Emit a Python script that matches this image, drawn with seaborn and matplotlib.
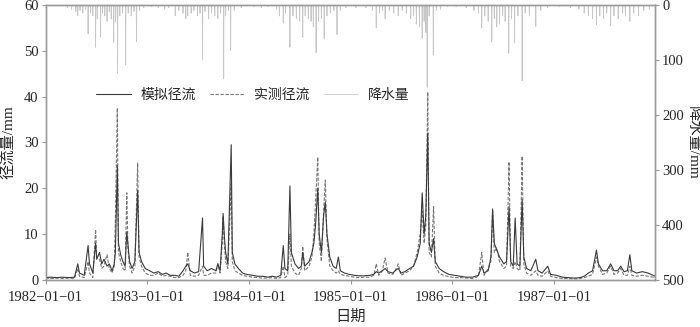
import pandas as pd
import numpy as np
import matplotlib
matplotlib.use('Agg')
import matplotlib.pyplot as plt
import matplotlib.dates as mdates
import seaborn as sns

q_dates = ['1982-01-01', '1982-01-20', '1982-02-10', '1982-03-01', '1982-03-25', '1982-04-15', '1982-04-27', '1982-05-03',
           '1982-05-20', '1982-06-03', '1982-06-08', '1982-06-20', '1982-06-30', '1982-07-04', '1982-07-14', '1982-07-22',
           '1982-07-30', '1982-08-10', '1982-08-18', '1982-08-28', '1982-09-05', '1982-09-09', '1982-09-16', '1982-09-20',
           '1982-09-28', '1982-10-06', '1982-10-14', '1982-10-20', '1982-10-24', '1982-10-30', '1982-11-08', '1982-11-18',
           '1982-11-28', '1982-12-03', '1982-12-12', '1982-12-25',
           '1983-01-10', '1983-01-25', '1983-02-10', '1983-02-25', '1983-03-10', '1983-03-25', '1983-04-10', '1983-04-25',
           '1983-05-10', '1983-05-20', '1983-05-27', '1983-06-05', '1983-06-20', '1983-07-05', '1983-07-19', '1983-07-23',
           '1983-08-05', '1983-08-20', '1983-09-05', '1983-09-12', '1983-09-20', '1983-09-28', '1983-10-01', '1983-10-05',
           '1983-10-10', '1983-10-18', '1983-10-30', '1983-11-03', '1983-11-12', '1983-11-25', '1983-12-10', '1983-12-25',
           '1984-01-15', '1984-02-01', '1984-02-20', '1984-03-10', '1984-03-25', '1984-04-10', '1984-04-25', '1984-05-04',
           '1984-05-10', '1984-05-20', '1984-05-28', '1984-06-02', '1984-06-15', '1984-06-28', '1984-07-08', '1984-07-13',
           '1984-07-20', '1984-08-05', '1984-08-15', '1984-08-22', '1984-08-28', '1984-09-05', '1984-09-10', '1984-09-18',
           '1984-09-26', '1984-10-02', '1984-10-08', '1984-10-18', '1984-10-30', '1984-11-10', '1984-11-18', '1984-11-25',
           '1984-12-10', '1984-12-28',
           '1985-01-15', '1985-02-01', '1985-02-20', '1985-03-10', '1985-03-25', '1985-04-03', '1985-04-12', '1985-04-25',
           '1985-05-05', '1985-05-15', '1985-06-01', '1985-06-10', '1985-06-21', '1985-07-01', '1985-07-15', '1985-08-01',
           '1985-08-15', '1985-08-28', '1985-09-08', '1985-09-15', '1985-09-22', '1985-09-28', '1985-10-05', '1985-10-10',
           '1985-10-18', '1985-10-26', '1985-11-01', '1985-11-15', '1985-12-01', '1985-12-20',
           '1986-01-10', '1986-02-01', '1986-02-20', '1986-03-15', '1986-04-05', '1986-04-17', '1986-04-25', '1986-05-10',
           '1986-05-20', '1986-05-26', '1986-06-01', '1986-06-10', '1986-06-20', '1986-07-05', '1986-07-15', '1986-07-24',
           '1986-07-30', '1986-08-08', '1986-08-15', '1986-08-22', '1986-09-01', '1986-09-09', '1986-09-15', '1986-09-25',
           '1986-10-10', '1986-10-28', '1986-11-05', '1986-11-20', '1986-12-10', '1986-12-20',
           '1987-01-10', '1987-02-01', '1987-02-20', '1987-03-15', '1987-04-05', '1987-04-20', '1987-05-05', '1987-05-20',
           '1987-06-03', '1987-06-10', '1987-06-25', '1987-07-10', '1987-07-24', '1987-08-05', '1987-08-18', '1987-08-29',
           '1987-09-10', '1987-09-22', '1987-10-01', '1987-10-08', '1987-10-25', '1987-11-15', '1987-12-05', '1987-12-31']

q_sim = [0.5, 0.6, 0.5, 0.6, 0.5, 0.6, 3.5, 1.5,
         1.0, 7.5, 3.5, 1.5, 8.0, 4.5, 6.0, 3.5,
         4.5, 3.0, 3.5, 2.0, 3.5, 6.0, 25.0, 8.0,
         5.5, 4.0, 3.0, 10.5, 8.0, 4.0, 2.5, 4.0,
         19.5, 6.0, 4.0, 2.5,
         2.0, 1.5, 1.8, 1.2, 1.5, 1.0, 1.0, 0.8,
         2.0, 3.0, 3.5, 2.0, 1.5, 1.8, 13.5, 3.0,
         2.0, 2.5, 2.0, 3.5, 2.0, 10.0, 14.5, 10.0,
         6.0, 3.5, 29.5, 6.0, 3.5, 2.5, 1.5, 1.2,
         1.0, 0.8, 0.8, 0.6, 0.8, 0.6, 1.0, 7.5,
         2.5, 2.0, 20.5, 6.0, 3.5, 2.5, 3.0, 6.0,
         3.0, 4.0, 6.0, 8.0, 12.0, 20.0, 10.0, 6.0,
         14.0, 17.0, 10.0, 5.0, 3.0, 2.5, 5.0, 2.0,
         1.5, 1.2,
         1.0, 0.9, 0.9, 1.0, 1.2, 1.8, 1.5, 2.0,
         2.5, 1.8, 1.5, 2.0, 2.5, 1.5, 1.8, 2.5,
         3.0, 5.0, 8.0, 19.0, 10.0, 14.0, 32.0, 8.0,
         6.0, 9.0, 4.0, 2.5, 1.8, 1.2,
         1.0, 0.8, 0.6, 0.6, 1.0, 3.0, 1.5, 2.0,
         5.0, 15.5, 8.0, 6.5, 5.0, 3.5, 4.0, 16.0,
         4.0, 3.0, 13.5, 3.5, 3.0, 17.5, 5.0, 2.5,
         2.0, 4.5, 2.0, 1.5, 3.0, 1.2,
         1.0, 0.6, 0.5, 0.4, 0.5, 0.8, 1.5, 2.0,
         6.5, 3.5, 2.0, 2.0, 3.5, 2.0, 2.0, 3.0,
         1.8, 2.0, 5.5, 2.0, 1.5, 1.8, 1.5, 0.8]

q_obs = [0.4, 0.3, 0.4, 0.3, 0.4, 0.3, 2.5, 0.8,
         0.5, 4.0, 1.5, 0.5, 11.0, 5.0, 4.5, 2.5,
         3.0, 5.5, 2.5, 1.5, 3.0, 13.0, 37.5, 6.0,
         4.0, 2.5, 2.0, 19.0, 7.0, 3.0, 1.5, 3.0,
         25.5, 5.0, 3.0, 1.5,
         1.0, 1.0, 1.5, 0.8, 1.0, 0.8, 0.5, 0.5,
         1.0, 2.0, 6.0, 1.0, 0.8, 1.0, 3.0, 1.0,
         1.0, 1.5, 1.5, 3.5, 1.5, 8.0, 14.0, 8.0,
         4.0, 2.5, 21.0, 4.0, 2.0, 1.5, 1.0, 0.8,
         0.6, 0.5, 0.4, 0.4, 0.5, 0.3, 0.5, 3.0,
         0.5, 1.0, 10.0, 3.0, 1.5, 1.0, 2.5, 7.3,
         2.0, 3.0, 5.0, 10.0, 17.0, 26.8, 8.0, 4.0,
         15.0, 21.8, 9.0, 3.0, 2.0, 1.5, 2.0, 1.2,
         1.0, 0.8,
         0.6, 0.5, 0.6, 0.6, 1.0, 3.5, 1.0, 2.0,
         4.8, 1.5, 1.2, 2.0, 3.5, 1.0, 1.5, 2.0,
         3.0, 6.0, 10.0, 15.0, 8.0, 12.0, 41.0, 6.0,
         5.0, 16.0, 3.0, 1.5, 1.0, 0.7,
         0.5, 0.5, 0.4, 0.3, 0.8, 6.0, 1.0, 2.5,
         4.0, 15.0, 6.0, 7.0, 4.0, 2.5, 3.0, 25.8,
         3.0, 2.5, 4.0, 2.5, 2.0, 27.0, 3.5, 1.5,
         1.0, 2.0, 1.0, 0.8, 2.0, 0.8,
         0.5, 0.3, 0.3, 0.2, 0.3, 0.5, 0.8, 1.2,
         5.0, 3.0, 1.2, 1.5, 3.0, 1.2, 1.5, 2.5,
         1.0, 1.0, 3.0, 1.0, 0.8, 1.0, 0.8, 0.5]

# 降水 (只列出有雨的日子, 其余为 0)
p_dates = ['1982-03-20', '1982-04-05', '1982-04-20', '1982-04-27', '1982-05-05', '1982-05-15', '1982-05-25', '1982-06-03',
           '1982-06-12', '1982-06-20', '1982-06-30', '1982-07-06', '1982-07-18', '1982-07-25', '1982-08-02', '1982-08-10',
           '1982-08-18', '1982-08-25', '1982-09-03', '1982-09-10', '1982-09-17', '1982-09-25', '1982-10-05', '1982-10-16',
           '1982-10-25', '1982-11-05', '1982-11-15', '1982-11-24', '1982-12-05', '1982-12-20',
           '1983-01-15', '1983-02-10', '1983-03-05', '1983-03-20', '1983-04-12', '1983-04-25', '1983-05-10', '1983-05-20',
           '1983-05-27', '1983-06-08', '1983-06-18', '1983-07-01', '1983-07-10', '1983-07-19', '1983-07-28', '1983-08-10',
           '1983-08-20', '1983-09-01', '1983-09-12', '1983-09-22', '1983-10-03', '1983-10-10', '1983-10-20', '1983-10-28',
           '1983-11-10', '1983-12-05',
           '1984-01-20', '1984-02-15', '1984-03-10', '1984-04-10', '1984-04-20', '1984-05-04', '1984-05-12', '1984-05-28',
           '1984-06-08', '1984-06-20', '1984-07-02', '1984-07-13', '1984-07-22', '1984-08-02', '1984-08-12', '1984-08-20',
           '1984-08-30', '1984-09-08', '1984-09-18', '1984-09-28', '1984-10-08', '1984-10-20', '1984-11-02', '1984-11-13',
           '1984-11-25', '1984-12-15',
           '1985-01-20', '1985-02-25', '1985-03-20', '1985-04-03', '1985-04-15', '1985-04-25', '1985-05-05', '1985-05-20',
           '1985-06-05', '1985-06-21', '1985-07-05', '1985-07-20', '1985-08-05', '1985-08-15', '1985-08-25', '1985-09-05',
           '1985-09-15', '1985-09-22', '1985-09-28', '1985-10-03', '1985-10-10', '1985-10-25', '1985-11-05', '1985-11-20',
           '1985-12-15',
           '1986-01-15', '1986-02-20', '1986-03-20', '1986-04-05', '1986-04-17', '1986-04-28', '1986-05-10', '1986-05-23',
           '1986-06-01', '1986-06-10', '1986-06-20', '1986-07-01', '1986-07-10', '1986-07-23', '1986-08-02', '1986-08-13',
           '1986-08-25', '1986-09-09', '1986-09-20', '1986-10-05', '1986-10-28', '1986-11-15', '1986-12-10',
           '1987-01-20', '1987-03-01', '1987-04-01', '1987-04-20', '1987-05-05', '1987-05-20', '1987-06-03', '1987-06-15',
           '1987-06-28', '1987-07-10', '1987-07-24', '1987-08-05', '1987-08-20', '1987-09-05', '1987-09-15', '1987-10-01',
           '1987-10-15', '1987-11-01', '1987-11-20', '1987-12-10']

p_vals = [5, 8, 12, 20, 10, 15, 8, 53,
          15, 20, 77, 25, 58, 15, 20, 30,
          12, 25, 68, 30, 124, 20, 15, 109,
          15, 20, 12, 67, 10, 5,
          3, 5, 8, 5, 20, 10, 15, 25,
          20, 15, 10, 20, 15, 99, 12, 25,
          15, 20, 25, 15, 134, 20, 10, 83,
          10, 5,
          3, 5, 3, 8, 20, 33, 15, 77,
          20, 25, 30, 59, 20, 25, 30, 40,
          87, 30, 25, 61, 20, 15, 10, 54,
          10, 5,
          5, 5, 10, 42, 15, 10, 25, 10,
          15, 20, 10, 15, 25, 20, 35, 40,
          61, 30, 50, 150, 20, 91, 10, 8,
          3,
          3, 5, 10, 15, 42, 20, 30, 67,
          25, 40, 35, 20, 30, 88, 25, 69,
          20, 138, 15, 20, 39, 10, 5,
          3, 5, 8, 15, 20, 25, 36, 20,
          25, 15, 38, 20, 25, 15, 20, 30,
          15, 20, 10, 8]

runoff = pd.DataFrame({'date': pd.to_datetime(q_dates), 'sim': q_sim, 'obs': q_obs})
rain = pd.Series(p_vals, index=pd.to_datetime(p_dates))
days = pd.date_range('1982-01-01', '1987-12-31', freq='D')
rain = rain.reindex(days, fill_value=0)
rain_df = pd.DataFrame({'date': days, 'p': rain.values})

sns.set_style('ticks')
plt.rcParams['font.family'] = ['Liberation Serif', 'Noto Sans CJK SC']
plt.rcParams['axes.unicode_minus'] = False

fig = plt.figure(figsize=(7, 3.27), dpi=100)
ax = fig.add_axes([0.065, 0.144, 0.871, 0.841])
ax2 = ax.twinx()

sns.lineplot(data=rain_df, x='date', y='p', ax=ax2, color='#c8c8c8', lw=0.6)
sns.lineplot(data=runoff, x='date', y='obs', ax=ax, color='#777777', lw=0.8, linestyle=(0, (3, 1.5)))
sns.lineplot(data=runoff, x='date', y='sim', ax=ax, color='#3a3a3a', lw=0.8)

ax.set_ylim(0, 60)
ax.set_yticks(range(0, 61, 10))
ax2.set_ylim(500, 0)
ax2.set_yticks(range(0, 501, 100))
ax.set_xlim(pd.Timestamp('1982-01-01'), pd.Timestamp('1987-12-31'))
ax.xaxis.set_major_locator(mdates.YearLocator())
ax.xaxis.set_major_formatter(mdates.DateFormatter('%Y\u2212%m\u2212%d'))

ax.set_xlabel('日期', fontsize=11)
ax.set_ylabel('径流量/mm', fontsize=11)
ax.yaxis.set_label_coords(-0.05, 0.5)
ax2.set_ylabel('降水量/mm', fontsize=11, rotation=270, va='center', ha='center')
ax2.yaxis.set_label_coords(1.061, 0.5)

for a in (ax, ax2):
    a.tick_params(labelsize=10.5, length=3, pad=2, color='#999999')
    for s in a.spines.values():
        s.set_color('#9a9a9a')
        s.set_linewidth(1.0)
ax.tick_params(axis='x', pad=5)
ax.set_zorder(ax2.get_zorder() + 1)
ax.patch.set_visible(False)

h_sim = ax.get_lines()[1]
h_obs = ax.get_lines()[0]
h_p = ax2.get_lines()[0]
ax.legend([h_sim, h_obs, h_p], ['模拟径流', '实测径流', '降水量'], ncol=3, frameon=False,
          loc='center', bbox_to_anchor=(0.34, 0.67), fontsize=10, handlelength=2.5,
          columnspacing=1.0, handletextpad=0.7)

fig.savefig('out.png', dpi=100)
